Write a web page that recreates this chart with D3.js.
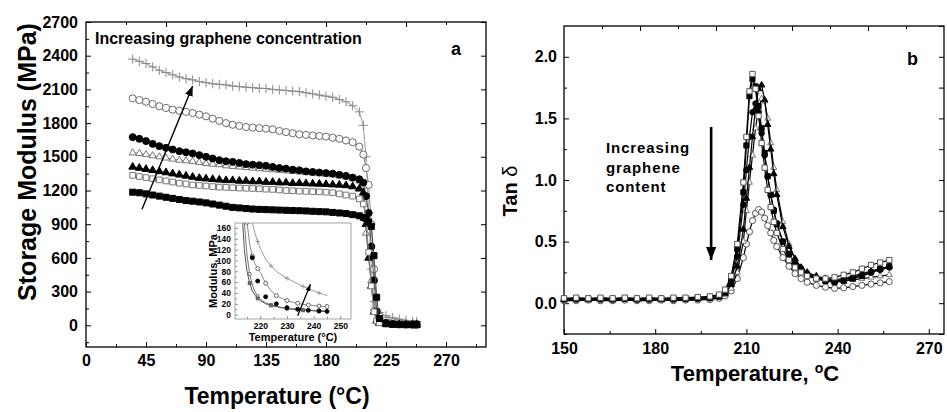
<!DOCTYPE html>
<html>
<head>
<meta charset="utf-8">
<script src="https://cdn.jsdelivr.net/npm/d3@7"></script>
<style>
body { margin: 0; background: #fff; }
text { font-family: "Liberation Sans", Arial, sans-serif; font-weight: bold; fill: #000; }
</style>
</head>
<body>
<div class="graph"></div>
<script>
// ---- panel a : storage modulus (MPa) vs temperature ----
const tempA = [35, 40, 45, 50, 55, 60, 65, 70, 75, 80, 85, 90, 95, 100, 105, 110, 115, 120, 125, 130,
    135, 140, 145, 150, 155, 160, 165, 170, 175, 180, 185, 190, 195, 200, 205,
    208, 210, 212, 214, 216, 218, 220, 225, 230, 235, 240, 245, 248];
const modCross = [2370, 2350, 2330, 2300, 2270, 2250, 2230, 2210, 2195, 2185, 2170, 2160, 2150, 2145, 2140, 2130, 2125, 2120, 2115, 2110,
    2108, 2100, 2095, 2090, 2085, 2080, 2070, 2060, 2050, 2040, 2030, 2010, 1990, 1955, 1900,
    1780, 1500, 1000, 500, 210, 140, 115, 85, 68, 55, 44, 36, 33];
const modOpenCircle = [2020, 2005, 1990, 1970, 1950, 1935, 1920, 1910, 1900, 1890, 1875, 1860, 1840, 1820, 1800, 1785, 1775, 1765, 1760, 1755,
    1750, 1745, 1730, 1720, 1710, 1700, 1695, 1690, 1685, 1680, 1670, 1660, 1645, 1630, 1590,
    1520, 1400, 1250, 900, 500, 120, 80, 40, 28, 21, 17, 15, 14];
const modFilledCircle = [1675, 1660, 1640, 1615, 1595, 1580, 1565, 1550, 1540, 1530, 1515, 1500, 1485, 1470, 1460, 1455, 1445, 1435, 1430, 1425,
    1420, 1410, 1400, 1395, 1385, 1380, 1370, 1365, 1360, 1355, 1350, 1340, 1330, 1315, 1300,
    1270, 1150, 1000, 700, 400, 120, 48, 22, 13, 10, 8, 6, 6];
const modOpenTri = [1535, 1530, 1520, 1510, 1500, 1490, 1480, 1470, 1465, 1460, 1450, 1440, 1435, 1430, 1420, 1415, 1410, 1405, 1400, 1395,
    1390, 1385, 1380, 1375, 1370, 1365, 1360, 1355, 1350, 1345, 1340, 1330, 1320, 1305, 1285,
    1240, 820, 600, 400, 150, 50, 25, 12, 8, 6, 5, 4, 4];
const modFilledTri = [1410, 1400, 1390, 1380, 1370, 1360, 1350, 1340, 1330, 1320, 1310, 1305, 1300, 1295, 1290, 1290, 1285, 1285, 1280, 1280,
    1275, 1275, 1270, 1270, 1265, 1265, 1262, 1260, 1258, 1255, 1252, 1250, 1245, 1235, 1215,
    1180, 900, 600, 350, 120, 40, 20, 10, 6, 5, 4, 4, 4];
const modOpenSq = [1335, 1325, 1315, 1305, 1295, 1285, 1275, 1265, 1258, 1250, 1245, 1240, 1235, 1230, 1228, 1225, 1222, 1220, 1218, 1215,
    1212, 1210, 1205, 1200, 1198, 1195, 1192, 1190, 1188, 1185, 1180, 1170, 1160, 1150, 1125,
    1080, 950, 650, 350, 120, 40, 22, 12, 8, 6, 5, 5, 5];
const modFilledSq = [1185, 1180, 1170, 1160, 1150, 1140, 1130, 1120, 1110, 1105, 1098, 1090, 1080, 1070, 1060, 1050, 1045, 1040, 1035, 1032,
    1030, 1028, 1026, 1024, 1022, 1020, 1018, 1015, 1012, 1010, 1005, 1000, 995, 985, 975,
    960, 950, 920, 880, 620, 250, 60, 15, 8, 6, 5, 5, 5];
const ticksAx = [0, 45, 90, 135, 180, 225, 270];
const ticksAy = [0, 300, 600, 900, 1200, 1500, 1800, 2100, 2400, 2700];

// inset of panel a (zoom on the drop)
const tempIn = [213, 214, 215, 216, 217, 218, 219, 220, 222, 224, 226, 228, 230, 232, 234, 236, 238, 240, 242, 244, 245];
const inGray = [600, 420, 300, 220, 170, 150, 135, 122, 102, 90, 80, 73, 67, 62, 57, 52, 48, 44, 40, 37, 35];
const inOpenCircle = [400, 260, 170, 130, 108, 94, 85, 78, 58, 44, 35, 30, 26, 23, 21, 19, 18, 17, 16, 15, 15];
const inFilledCircle = [400, 260, 190, 147, 105, 80, 62, 48, 33, 25, 20, 16, 13, 11, 10, 9, 8, 7, 7, 6, 6];
const inSteepA = [200, 120, 80, 58, 44, 36, 30, 26, 20, 17, 15, 13, 11, 10, 9, 8, 8, 7, 6, 6, 6];
const inSteepB = [300, 170, 110, 75, 55, 42, 34, 28, 22, 18, 15, 13, 12, 11, 10, 9, 8, 8, 7, 7, 7];
const ticksInX = [220, 230, 240, 250];
const ticksInY = [0, 20, 40, 60, 80, 100, 120, 140, 160];

// ---- panel b : tan delta vs temperature ----
const tempB = [150, 154, 158, 162, 166, 170, 174, 178, 182, 186, 190, 194, 198,
    201, 203, 205, 207, 209,
    210, 211, 212, 213, 214, 215, 216, 217, 218, 219, 220,
    222, 224, 226, 228, 230,
    233, 236, 239, 242, 245, 248, 251, 254, 257];
const tanOpenSq = [0.04, 0.045, 0.04, 0.045, 0.04, 0.045, 0.04, 0.045, 0.04, 0.045, 0.045, 0.05, 0.055,
    0.07, 0.11, 0.22, 0.48, 0.98,
    1.35, 1.72, 1.86, 1.74, 1.52, 1.3, 1.1, 0.92, 0.78, 0.66, 0.57,
    0.44, 0.35, 0.29, 0.25, 0.22,
    0.2, 0.2, 0.21, 0.23, 0.25, 0.28, 0.31, 0.33, 0.35];
const tanFilledSq = [0.035, 0.04, 0.035, 0.04, 0.035, 0.04, 0.035, 0.04, 0.035, 0.04, 0.04, 0.045, 0.05,
    0.065, 0.1, 0.2, 0.44, 0.9,
    1.28, 1.68, 1.82, 1.76, 1.6, 1.42, 1.22, 1.03, 0.88, 0.75, 0.64,
    0.5, 0.4, 0.32, 0.27, 0.23,
    0.2, 0.18, 0.17, 0.18, 0.2, 0.22, 0.25, 0.28, 0.3];
const tanFilledTri = [0.03, 0.035, 0.03, 0.035, 0.03, 0.035, 0.03, 0.035, 0.03, 0.035, 0.035, 0.04, 0.04,
    0.05, 0.08, 0.15, 0.3, 0.6,
    0.85, 1.1, 1.35, 1.58, 1.74, 1.77, 1.65, 1.45, 1.25, 1.05, 0.88,
    0.62, 0.46, 0.36, 0.29, 0.25,
    0.22, 0.2, 0.19, 0.2, 0.22, 0.24, 0.26, 0.28, 0.3];
const tanFilledCircle = [0.03, 0.03, 0.035, 0.03, 0.03, 0.035, 0.03, 0.03, 0.035, 0.03, 0.035, 0.035, 0.04,
    0.055, 0.09, 0.18, 0.38, 0.8,
    1.08, 1.35, 1.55, 1.62, 1.55, 1.38, 1.2, 1.03, 0.88, 0.76, 0.65,
    0.5, 0.4, 0.33, 0.28, 0.24,
    0.21, 0.19, 0.18, 0.19, 0.21, 0.23, 0.25, 0.27, 0.29];
const tanOpenTri = [0.02, 0.025, 0.02, 0.025, 0.02, 0.025, 0.02, 0.025, 0.02, 0.025, 0.025, 0.03, 0.035,
    0.045, 0.07, 0.12, 0.25, 0.5,
    0.75, 0.98, 1.2, 1.42, 1.58, 1.66, 1.64, 1.5, 1.3, 1.1, 0.92,
    0.66, 0.48, 0.36, 0.29, 0.24,
    0.2, 0.18, 0.17, 0.18, 0.19, 0.2, 0.21, 0.22, 0.23];
const tanOpenCircle = [0.02, 0.02, 0.025, 0.02, 0.02, 0.025, 0.02, 0.02, 0.025, 0.02, 0.025, 0.025, 0.03,
    0.04, 0.06, 0.1, 0.2, 0.37,
    0.48, 0.58, 0.67, 0.73, 0.76, 0.74, 0.69, 0.63, 0.57, 0.51, 0.46,
    0.37, 0.3, 0.24, 0.2, 0.17,
    0.145, 0.13, 0.12, 0.125, 0.135, 0.145, 0.155, 0.165, 0.175];
const ticksBx = [150, 180, 210, 240, 270];
const ticksBy = [0, 0.5, 1, 1.5, 2];

const svg = d3.select('.graph').append('svg').attr('width', 947).attr('height', 412);
const defs = svg.append('defs');

function arrowHead(id, len, wid) {
    defs.append('marker').attr('id', id)
        .attr('viewBox', `0 0 ${len} ${wid}`).attr('refX', len).attr('refY', wid / 2)
        .attr('markerWidth', len).attr('markerHeight', wid)
        .attr('markerUnits', 'userSpaceOnUse').attr('orient', 'auto')
        .append('path').attr('d', `M0,0L${len},${wid / 2}L0,${wid}Z`).attr('fill', '#000');
}
arrowHead('headA', 10, 8);
arrowHead('headB', 13, 10);
arrowHead('headIn', 7, 5);

// frame + inward ticks on all four sides
function frame(g, x, y, o) {
    const [xl, xr] = x.range(), [yb, yt] = y.range();
    const side = (gen, tr, vals, size, fmt, pad, fs) => {
        const a = g.append('g').attr('transform', tr)
            .call(gen.tickValues(vals).tickSize(size).tickPadding(pad).tickFormat(fmt))
            .call(s => s.select('.domain').remove());
        a.attr('font-family', null).attr('font-size', fs);
        a.selectAll('line').attr('stroke', o.tickColor || '#000').attr('stroke-width', o.tw || 1);
    };
    const none = () => '';
    side(d3.axisBottom(x), `translate(0,${yb})`, o.xMajor, -o.major, o.fmtX, o.padX, o.fsX || o.fs);
    side(d3.axisBottom(x), `translate(0,${yb})`, o.xMinor, -o.minor, none, 0, o.fs);
    side(d3.axisLeft(y), `translate(${xl},0)`, o.yMajor, -o.major, o.fmtY, o.padY, o.fs);
    side(d3.axisLeft(y), `translate(${xl},0)`, o.yMinor, -o.minor, none, 0, o.fs);
    if (o.topMajor) {
        side(d3.axisTop(x), `translate(0,${yt})`, o.topMajor, -o.major, none, 0, o.fs);
        side(d3.axisTop(x), `translate(0,${yt})`, o.topMinor, -o.minor, none, 0, o.fs);
        side(d3.axisRight(y), `translate(${xr},0)`, o.right, -o.major, none, 0, o.fs);
    }
    g.append('rect').attr('x', xl).attr('y', yt).attr('width', xr - xl).attr('height', yb - yt)
        .attr('fill', 'none').attr('stroke', o.frameColor || '#000').attr('stroke-width', o.fw || 1.3);
}

function series(g, x, y, xs, ys, o) {
    const pts = xs.map((t, i) => [t, ys[i]]);
    g.append('path').datum(pts)
        .attr('fill', 'none').attr('stroke', o.line).attr('stroke-width', o.lw || 1)
        .attr('d', d3.line().x(d => x(d[0])).y(d => y(d[1])));
    const sym = d3.symbol().type(o.type).size(o.size);
    g.selectAll(null).data(pts.filter((d, i) => i % (o.every || 1) === 0)).join('path')
        .attr('transform', d => `translate(${x(d[0])},${y(d[1])})`)
        .attr('d', sym)
        .attr('fill', o.fill).attr('stroke', o.stroke).attr('stroke-width', o.sw || 1);
}

// ================= panel a =================
const xA = d3.scaleLinear().domain([0, 300]).range([86, 486]);
const yA = d3.scaleLinear().domain([-193, 2700]).range([347, 22]);
const gA = svg.append('g');

frame(gA, xA, yA, {
    xMajor: ticksAx, xMinor: d3.range(22.5, 300, 45),
    yMajor: ticksAy, yMinor: d3.range(-150, 2700, 300),
    topMajor: [60, 120, 180, 240], topMinor: [30, 90, 150, 210, 270], right: ticksAy,
    major: 5, minor: 3, padX: 8, padY: 8, fs: 16,
    fmtX: d3.format('d'), fmtY: d3.format('d')
});

series(gA, xA, yA, tempA, modCross, { type: d3.symbolPlus, size: 30, fill: 'none', stroke: '#8a8a8a', line: '#9a9a9a' });
series(gA, xA, yA, tempA, modOpenCircle, { type: d3.symbolCircle, size: 40, fill: '#fff', stroke: '#6a6a6a', line: '#8a8a8a' });
series(gA, xA, yA, tempA, modOpenTri, { type: d3.symbolTriangle, size: 22, fill: '#fff', stroke: '#777', line: '#8a8a8a' });
series(gA, xA, yA, tempA, modFilledCircle, { type: d3.symbolCircle, size: 38, fill: '#000', stroke: '#000', line: '#555' });
series(gA, xA, yA, tempA, modFilledTri, { type: d3.symbolTriangle, size: 26, fill: '#000', stroke: '#000', line: '#555' });
series(gA, xA, yA, tempA, modOpenSq, { type: d3.symbolSquare, size: 32, fill: '#fff', stroke: '#777', line: '#8a8a8a' });
series(gA, xA, yA, tempA, modFilledSq, { type: d3.symbolSquare, size: 36, fill: '#000', stroke: '#000', line: '#444' });

// axis titles and notes
gA.append('text').attr('transform', 'translate(36,162) rotate(-90)').attr('text-anchor', 'middle')
    .attr('font-size', 25).text('Storage Modulus (MPa)');
gA.append('text').attr('x', 277).attr('y', 404).attr('text-anchor', 'middle')
    .attr('font-size', 23).text('Temperature (°C)');
gA.append('text').attr('x', 95).attr('y', 44).attr('font-size', 16).text('Increasing graphene concentration');
gA.append('text').attr('x', 451).attr('y', 55).attr('font-size', 18).text('a');
gA.append('line')
    .attr('x1', xA(42)).attr('y1', yA(1034)).attr('x2', xA(80)).attr('y2', yA(2130))
    .attr('stroke', '#000').attr('stroke-width', 1.4).attr('marker-end', 'url(#headA)');

// ---- inset ----
const xI = d3.scaleLinear().domain([210.5, 254]).range([235, 351]);
const yI = d3.scaleLinear().domain([-8, 169]).range([319, 223]);
const gI = svg.append('g');
gI.append('rect').attr('x', 235).attr('y', 223).attr('width', 116).attr('height', 96).attr('fill', '#fff');
defs.append('clipPath').attr('id', 'clipIn').append('rect')
    .attr('x', 235).attr('y', 223).attr('width', 116).attr('height', 96);
const gIc = gI.append('g').attr('clip-path', 'url(#clipIn)');
series(gIc, xI, yI, tempIn, inGray, { type: d3.symbolPlus, size: 8, fill: 'none', stroke: '#999', line: '#999', every: 3 });
series(gIc, xI, yI, tempIn, inSteepB, { type: d3.symbolSquare, size: 8, fill: '#fff', stroke: '#777', line: '#777', every: 3 });
series(gIc, xI, yI, tempIn, inSteepA, { type: d3.symbolSquare, size: 8, fill: '#777', stroke: '#555', line: '#555', every: 3 });
series(gIc, xI, yI, tempIn, inOpenCircle, { type: d3.symbolCircle, size: 12, fill: '#fff', stroke: '#666', line: '#888', every: 2 });
series(gIc, xI, yI, tempIn, inFilledCircle, { type: d3.symbolCircle, size: 12, fill: '#000', stroke: '#000', line: 'none', every: 2 });
frame(gI, xI, yI, {
    xMajor: ticksInX, xMinor: [215, 225, 235, 245],
    yMajor: ticksInY, yMinor: d3.range(10, 170, 20),
    major: 3, minor: 2, padX: 4, padY: 4, fs: 8.5, fsX: 8.5, tw: 0.8,
    tickColor: '#777', frameColor: '#999', fw: 0.9,
    fmtX: d3.format('d'), fmtY: d3.format('d')
});
gI.append('text').attr('transform', 'translate(217,271) rotate(-90)').attr('text-anchor', 'middle')
    .attr('font-size', 11).text('Modulus, MPa');
gI.append('text').attr('x', 293).attr('y', 341).attr('text-anchor', 'middle')
    .attr('font-size', 11).text('Temperature (°C)');
gI.append('line')
    .attr('x1', xI(234)).attr('y1', yI(-2)).attr('x2', xI(238.8)).attr('y2', yI(56))
    .attr('stroke', '#000').attr('stroke-width', 1.3).attr('marker-end', 'url(#headIn)');

// ================= panel b =================
const xB = d3.scaleLinear().domain([150, 275]).range([564, 944]);
const yB = d3.scaleLinear().domain([-0.25, 2.25]).range([334, 26]);
const gB = svg.append('g');

frame(gB, xB, yB, {
    xMajor: ticksBx, xMinor: [165, 195, 225, 255],
    yMajor: ticksBy, yMinor: [-0.25, 0.25, 0.75, 1.25, 1.75],
    topMajor: [175, 200, 225, 250], topMinor: [162.5, 187.5, 212.5, 237.5, 262.5],
    right: d3.range(-0.25, 2.26, 0.25),
    major: 5, minor: 3, padX: 9, padY: 7, fs: 16,
    fmtX: d3.format('d'), fmtY: d3.format('.1f')
});

series(gB, xB, yB, tempB, tanOpenCircle, { type: d3.symbolCircle, size: 30, fill: '#fff', stroke: '#555', line: '#000', lw: 1.2 });
series(gB, xB, yB, tempB, tanOpenTri, { type: d3.symbolTriangle, size: 16, fill: '#fff', stroke: '#777', line: '#000', lw: 1.2 });
series(gB, xB, yB, tempB, tanFilledCircle, { type: d3.symbolCircle, size: 24, fill: '#000', stroke: '#000', line: '#000', lw: 1.2 });
series(gB, xB, yB, tempB, tanFilledTri, { type: d3.symbolTriangle, size: 18, fill: '#000', stroke: '#000', line: '#000', lw: 1.2 });
series(gB, xB, yB, tempB, tanFilledSq, { type: d3.symbolSquare, size: 26, fill: '#000', stroke: '#000', line: '#000', lw: 1.2 });
series(gB, xB, yB, tempB, tanOpenSq, { type: d3.symbolSquare, size: 28, fill: '#fff', stroke: '#555', line: '#000', lw: 1.2 });

const titleB = gB.append('text').attr('transform', 'translate(517,191) rotate(-90)').attr('text-anchor', 'middle')
    .attr('font-size', 20);
titleB.append('tspan').text('Tan ');
titleB.append('tspan').style('font-weight', 'normal').text('δ');
const xtB = gB.append('text').attr('x', 755).attr('y', 381).attr('text-anchor', 'middle').attr('font-size', 22);
xtB.append('tspan').text('Temperature, ');
xtB.append('tspan').attr('font-size', 14).attr('dy', -8).text('o');
xtB.append('tspan').attr('dy', 8).text('C');
gB.append('text').attr('x', 907).attr('y', 65).attr('font-size', 18).text('b');
['Increasing', 'graphene', 'content'].forEach((s, i) => {
    gB.append('text').attr('x', 606).attr('y', 153 + i * 19.5).attr('font-size', 15)
        .attr('letter-spacing', 0.9).text(s);
});
gB.append('line')
    .attr('x1', xB(198.4)).attr('y1', yB(1.43)).attr('x2', xB(198.4)).attr('y2', yB(0.35))
    .attr('stroke', '#000').attr('stroke-width', 2.6).attr('marker-end', 'url(#headB)');
</script>
</body>
</html>
